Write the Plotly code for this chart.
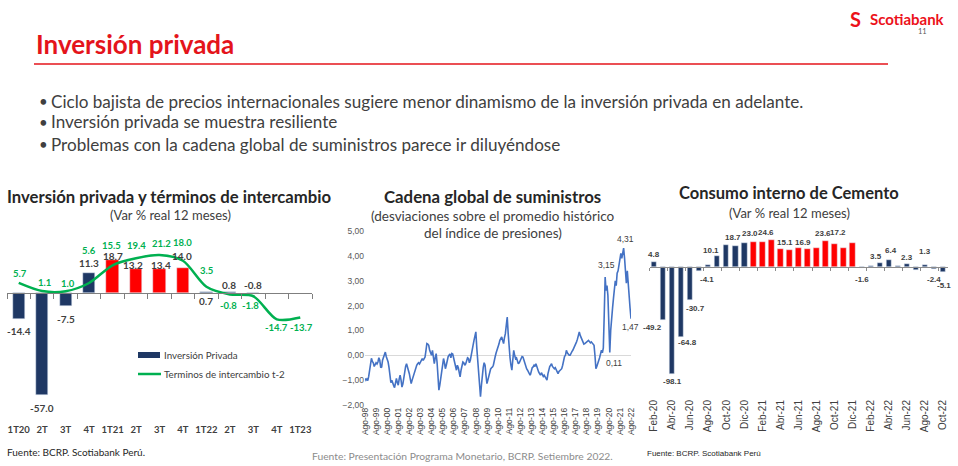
import plotly.graph_objects as go
import pandas as pd

W, H = 958, 466
def X(px): return px / W
def Y(py): return 1 - py / H

# ---------------- DATA ----------------
# Left: Inversión privada y términos de intercambio
inv_quarters = ["1T20", "2T", "3T", "4T", "1T21", "2T", "3T", "4T", "1T22", "2T", "3T", "4T", "1T23"]
inv_privada = [-14.4, -57.0, -7.5, 11.3, 18.7, 13.2, 13.4, 14.0, 0.7, 0.8, -0.8, None, None]
terminos_t2 = [5.7, 1.1, 1.0, 5.6, 15.5, 19.4, 21.2, 18.0, 3.5, -0.8, -1.8, -14.7, -13.7]

# Middle: Global supply chain pressure index (monthly, Ago-98 .. Ago-22)
gscpi = [
    -0.93, -1.00, -0.95, -1.02, -0.85,                                          # 1998 (Aug-Dec)
    -0.60, -0.35, -0.12, -0.25, -0.30, -0.45, -0.40, -0.30, -0.35, -0.27, -0.10, -0.20,  # 1999
    -0.50, -0.47, -0.20, -0.05, 0.05, 0.13, -0.05, -0.15, -0.27, -0.50, -0.85, -1.10,    # 2000
    -1.00, -1.15, -1.21, -1.30, -1.05, -0.93, -1.10, -1.20, -0.95, -0.80, -1.00, -1.28,  # 2001
    -1.15, -0.90, -0.60, -0.45, -0.34, -0.45, -0.60, -0.74, -0.95, -1.14, -1.00, -0.87,  # 2002
    -0.70, -0.55, -0.47, -0.40, -0.34, -0.30, -0.35, -0.27, -0.20, -0.13, -0.20, -0.10,  # 2003
    -0.07, 0.20, 0.47, 0.45, 0.40, 0.20, 0.05, 0.00, 0.20, -0.10, -0.34, -0.10,          # 2004
    0.07, -0.30, -0.74, -1.40, -1.20, -0.90, -0.74, -0.40, -0.13, -0.30, -0.54, -0.40,   # 2005
    -0.15, -0.05, 0.00, 0.05, -0.10, 0.07, 0.05, -0.10, -0.27, -0.45, -0.60, -0.40,      # 2006
    -0.50, -0.70, -0.87, -0.60, -0.45, -0.27, -0.30, -0.40, -0.35, -0.25, -0.10, -0.13,  # 2007
    -0.30, -0.20, 0.05, 0.20, 0.40, 0.60, 0.80, 0.94, 0.30, -0.20, -1.00, -1.40,         # 2008
    -1.67, -1.20, -0.74, -0.50, -0.30, -0.40, -0.80, -1.14, -1.00, -0.80, -0.70, -0.55,  # 2009
    -0.50, -0.47, -0.40, -0.13, -0.05, 0.10, 0.20, 0.27, 0.45, 0.60, 0.70, 0.74,         # 2010
    0.60, 0.47, 0.70, 0.87, 1.20, 1.54, 0.90, 0.20, -0.10, -0.40, -0.60, -0.20,          # 2011
    0.20, 0.00, -0.13, -0.10, -0.25, -0.34, -0.30, -0.20, -0.10, -0.05, -0.07, -0.20,    # 2012
    -0.35, -0.45, -0.54, -0.60, -0.70, -0.75, -0.80, -0.60, -0.50, -0.47, -0.40, -0.45,  # 2013
    -0.34, -0.45, -0.60, -0.67, -0.74, -0.80, -0.70, -0.75, -0.85, -0.80, -0.87, -0.90,  # 2014
    -1.00, -0.75, -0.54, -0.45, -0.40, -0.34, -0.45, -0.50, -0.54, -0.50, -0.60, -0.70,  # 2015
    -0.74, -0.65, -0.60, -0.55, -0.54, -0.40, -0.20, -0.05, 0.00, 0.20, 0.10, 0.05,      # 2016
    0.00, 0.00, 0.10, 0.15, 0.20, 0.27, 0.35, 0.45, 0.54, 0.65, 0.80, 0.94,              # 2017
    0.80, 0.70, 0.60, 0.50, 0.45, 0.47, 0.50, 0.55, 0.60, 0.60, 0.55, 0.50,              # 2018
    0.54, 0.50, 0.45, 0.40, 0.00, -0.54, -0.45, -0.35, -0.27, -0.10, 0.05, 0.20,         # 2019
    0.10, 0.30, 1.60, 3.15, 2.60, 2.80, 2.40, 1.20, 0.11, 1.00, 1.60, 1.90,              # 2020
    2.30, 2.90, 3.00, 2.80, 3.30, 3.40, 3.60, 3.90, 4.10, 3.90, 4.20, 4.31,              # 2021
    3.90, 3.30, 2.90, 3.40, 2.80, 2.20, 1.90, 1.47,                                      # 2022 (Jan-Aug)
]
gscpi_start = "1998-08-01"
gscpi_tick_labels = ["Ago-98", "Ago-99", "Ago-00", "Ago-01", "Ago-02", "Ago-03", "Ago-04",
                     "Ago-05", "Ago-06", "Ago-07", "Ago-08", "Ago-09", "Ago-10", "Ago-11",
                     "Ago-12", "Ago-13", "Ago-14", "Ago-15", "Ago-16", "Ago-17", "Ago-18",
                     "Ago-19", "Ago-20", "Ago-21", "Ago-22"]
gscpi_tick_years = list(range(1998, 2023))
gscpi_marked = {"2020-04-01": "3,15", "2021-12-01": "4,31", "2020-09-01": "0,11", "2022-08-01": "1,47"}

# Right: Consumo interno de cemento
cem_months = ["Feb-20", "Mar-20", "Abr-20", "May-20", "Jun-20", "Jul-20", "Ago-20", "Sep-20",
              "Oct-20", "Nov-20", "Dic-20", "Ene-21", "Feb-21", "Mar-21", "Abr-21", "May-21",
              "Jun-21", "Jul-21", "Ago-21", "Sep-21", "Oct-21", "Nov-21", "Dic-21", "Ene-22",
              "Feb-22", "Mar-22", "Abr-22", "May-22", "Jun-22", "Jul-22", "Ago-22", "Sep-22",
              "Oct-22"]
cem_values = [4.8, -49.2, -98.1, -64.8, -30.7, -4.1, 1.5, 10.1, 19.5, 18.7, 21.5, 23.0,
              22.5, 24.6, 16.5, 15.1, 16.9, 16.0, 17.5, 23.6, 20.5, 17.2, 22.0, -1.6,
              0.8, 3.5, 6.4, 0.6, 2.3, -3.2, 1.3, -2.4, -5.1]
cem_labelled = [0, 1, 2, 3, 4, 5, 7, 9, 11, 13, 15, 16, 19, 21, 23, 25, 26, 28, 30, 31, 32]

# ---------------- STYLE ----------------
NAVY = "#1F3864"
RED = "#FF0000"
GREEN = "#00B050"
BLUE = "#4472C4"
DARK = "#404040"
FONT = "Lato"
NARROW = "Liberation Sans Narrow, Liberation Sans, Arial"

inv_colors = [NAVY] * 4 + [RED] * 4 + [NAVY] * 5
cem_colors = [NAVY] * 11 + [RED] * 12 + [NAVY] * 10

# label pixel offsets (xshift, yshift)
inv_lbl_off = [(0, -12), (0, -13), (0, -13), (0, 10), (0, 4), (-3, 4), (1, 4), (-1, 12),
               (0, -9), (-1, 7), (0, 9.5)]
tdi_lbl_off = [(1, 9), (2, 9), (2, 8), (0, 32), (-1, 20), (0, 13), (2, 12), (0, 18),
               (0, 16), (-1, -11), (-3, -9), (0, -8), (1, -10)]
cem_lbl_off = {0: (0, 7), 1: (-11, -7), 2: (0, -8), 3: (6, -5), 4: (5, -8), 5: (8, -8),
               7: (-6, 5), 9: (-2, 9), 11: (-3, 8), 13: (-5, 7), 15: (-4, 8), 16: (4, 6),
               19: (-3, 8), 21: (-6, 15), 23: (0, -11), 25: (-4, 6), 26: (2, 9), 28: (0, 7),
               30: (0, 14), 31: (0, -10), 32: (1, -13)}
gscpi_lbl_off = {"2020-04-01": (1, 12), "2021-12-01": (2, 9), "2020-09-01": (4, -10),
                 "2022-08-01": (-1, -8)}

fig = go.Figure()

# ---------------- LEFT CHART ----------------
L_x0, L_x1, L_top, L_bot = 7, 312, 228, 422
L_ymin, L_ymax = -72.0, 36.3
xi = list(range(len(inv_quarters)))
fig.add_trace(go.Bar(x=xi, y=inv_privada, marker_color=inv_colors, width=0.52,
                     xaxis="x", yaxis="y", showlegend=False, hoverinfo="skip"))
fig.add_trace(go.Scatter(x=xi, y=terminos_t2, mode="lines",
                         line=dict(color=GREEN, width=2.5, shape="spline", smoothing=0.8),
                         xaxis="x", yaxis="y", showlegend=False, hoverinfo="skip"))
fig.add_trace(go.Scatter(x=[], y=[], xaxis="x2", yaxis="y", showlegend=False, hoverinfo="skip"))

ann = []
for i, v in enumerate(inv_privada):
    if v is None:
        continue
    dx, dy = inv_lbl_off[i]
    ann.append(dict(x=i, y=v, xref="x", yref="y", text=f"<b>{v:.1f}</b>", showarrow=False,
                    xshift=dx, yshift=dy, font=dict(family=FONT, size=10, color=DARK)))
for i, v in enumerate(terminos_t2):
    dx, dy = tdi_lbl_off[i]
    ann.append(dict(x=i, y=v, xref="x", yref="y", text=f"<b>{v:.1f}</b>", showarrow=False,
                    xshift=dx, yshift=dy, font=dict(family=FONT, size=9.5, color=GREEN)))

L_dom = [Y(L_bot), Y(L_top)]
L_zero = L_dom[0] + (0 - L_ymin) / (L_ymax - L_ymin) * (L_dom[1] - L_dom[0])

# ---------------- MIDDLE CHART ----------------
M_x0, M_x1, M_top, M_bot = 365, 631, 231, 405
g_dates = pd.date_range(gscpi_start, periods=len(gscpi), freq="MS")
fig.add_trace(go.Scatter(x=g_dates, y=gscpi, mode="lines", line=dict(color=BLUE, width=1.6),
                         xaxis="x3", yaxis="y3", showlegend=False, hoverinfo="skip"))
g_series = pd.Series(gscpi, index=g_dates)
for d, t in gscpi_marked.items():
    dx, dy = gscpi_lbl_off[d]
    ann.append(dict(x=d, y=float(g_series[pd.Timestamp(d)]), xref="x3", yref="y3", text=t,
                    showarrow=False, xshift=dx, yshift=dy,
                    font=dict(family=NARROW, size=8.5, color=DARK)))

# ---------------- RIGHT CHART ----------------
R_x0, R_x1, R_top, R_bot = 649.5, 947.5, 230, 397
R_ymin, R_ymax = -119.5, 33.7
ci = list(range(len(cem_months)))
fig.add_trace(go.Bar(x=ci, y=cem_values, marker_color=cem_colors, width=0.6,
                     xaxis="x4", yaxis="y4", showlegend=False, hoverinfo="skip"))
fig.add_trace(go.Scatter(x=[], y=[], xaxis="x5", yaxis="y4", showlegend=False, hoverinfo="skip"))
for k in cem_labelled:
    dx, dy = cem_lbl_off[k]
    ann.append(dict(x=k, y=cem_values[k], xref="x4", yref="y4", text=f"<b>{cem_values[k]:.1f}</b>",
                    showarrow=False, xshift=dx, yshift=dy,
                    font=dict(family=NARROW, size=8, color=DARK)))
R_dom = [Y(R_bot), Y(R_top)]
R_zero = R_dom[0] + (0 - R_ymin) / (R_ymax - R_ymin) * (R_dom[1] - R_dom[0])

# ---------------- TEXTS ----------------
def txt(px, py, s, size, color="#262626", family=FONT, xanchor="center", bold=False):
    ann.append(dict(x=X(px), y=Y(py), xref="paper", yref="paper", text=(f"<b>{s}</b>" if bold else s),
                    showarrow=False, xanchor=xanchor, yanchor="middle",
                    font=dict(family=family, size=size, color=color)))

txt(34, 44, "Inversión privada", 26, "#E4141B", xanchor="left", bold=True)
for yb in (101, 122, 144):
    txt(37, yb, "•", 15, "#404040", xanchor="left")
txt(49, 101, "Ciclo bajista de precios internacionales sugiere menor dinamismo de la inversión privada en adelante.", 17.1, "#404040", xanchor="left")
txt(49, 122, "Inversión privada se muestra resiliente", 17.1, "#404040", xanchor="left")
txt(49, 144, "Problemas con la cadena global de suministros parece ir diluyéndose", 17.1, "#404040", xanchor="left")

txt(169, 197, "Inversión privada y términos de intercambio", 16.7, "#262626", bold=True)
txt(170, 215, "(Var % real 12 meses)", 13, "#404040")
txt(492, 196, "Cadena global de suministros", 16.8, "#262626", bold=True)
txt(492, 216, "(desviaciones sobre el promedio histórico", 13.5, "#404040")
txt(493, 233, "del índice de presiones)", 13.5, "#404040")
txt(789, 193, "Consumo interno de Cemento", 16.5, "#262626", bold=True)
txt(789, 213, "(Var % real 12 meses)", 13, "#404040")

txt(5, 452, "Fuente: BCRP. Scotiabank Perú.", 10, "#262626", xanchor="left")
txt(462, 456, "Fuente: Presentación Programa Monetario, BCRP. Setiembre 2022.", 10.3, "#8C8C8C")
txt(645, 453, "Fuente: BCRP. Scotiabank Perú", 8, "#262626", family=NARROW, xanchor="left")

# legend (left chart)
txt(162, 355, "Inversión Privada", 9.8, DARK, xanchor="left")
txt(162, 374, "Terminos de intercambio t-2", 9.8, DARK, xanchor="left")

# header logo
txt(907, 19, "Scotiabank", 15, "#EC111A", bold=True)
txt(855, 19, "S", 20, "#EC111A", bold=True)
txt(922, 31, "11", 7.5, "#595959")

shapes = [
    dict(type="line", xref="paper", yref="paper", x0=X(34), x1=X(888), y0=Y(64), y1=Y(64),
         line=dict(color="#E4141B", width=1.5)),
    dict(type="rect", xref="paper", yref="paper", x0=X(138), x1=X(160), y0=Y(358), y1=Y(352),
         line=dict(width=0), fillcolor=NAVY),
    dict(type="line", xref="paper", yref="paper", x0=X(138), x1=X(161), y0=Y(374), y1=Y(374),
         line=dict(color=GREEN, width=2.5)),
]

axis_off = dict(showgrid=False, zeroline=False, showticklabels=False, showline=False, ticks="",
                automargin=False)

fig.update_layout(
    width=W, height=H, margin=dict(l=0, r=0, t=0, b=0, pad=0, autoexpand=False),
    paper_bgcolor="white", plot_bgcolor="rgba(0,0,0,0)",
    separators=",.", bargap=0, showlegend=False,
    annotations=ann, shapes=shapes,
    # left
    xaxis=dict(domain=[X(L_x0), X(L_x1)], range=[-0.5, 12.5], anchor="y", automargin=False,
               tickmode="array", tickvals=xi, ticktext=inv_quarters,
               tickfont=dict(family=FONT, size=9.5, color=DARK, weight="bold"),
               showgrid=False, zeroline=False, showline=False, ticks=""),
    xaxis2=dict(domain=[X(L_x0), X(L_x1)], range=[-0.5, 12.5], overlaying="x", anchor="free",
                position=L_zero, tickmode="array", tickvals=[i - 0.5 for i in range(14)],
                automargin=False, showticklabels=False, showgrid=False, zeroline=False, showline=True,
                linecolor="#7F7F7F", linewidth=1, ticks="outside", ticklen=5, tickcolor="#7F7F7F"),
    yaxis=dict(domain=L_dom, range=[L_ymin, L_ymax], anchor="x", **axis_off),
    # middle
    xaxis3=dict(domain=[X(M_x0), X(M_x1)], type="date", range=["1998-08-01", "2022-08-01"],
                anchor="y3", tickmode="array", automargin=False,
                tickvals=[f"{y}-08-01" for y in gscpi_tick_years], ticktext=gscpi_tick_labels,
                tickangle=-90, tickfont=dict(family=NARROW, size=8.5, color=DARK),
                showgrid=False, zeroline=False, showline=False, ticks=""),
    yaxis3=dict(domain=[Y(M_bot), Y(M_top)], range=[-2, 5], anchor="x3", dtick=1, automargin=False,
                tickformat=".2f", tickfont=dict(family=NARROW, size=8.5, color="#595959"),
                showgrid=False, zeroline=True, zerolinecolor="#D9D9D9", zerolinewidth=1,
                showline=False, ticks=""),
    # right
    xaxis4=dict(domain=[X(R_x0), X(R_x1)], range=[-0.5, 32.5], anchor="y4", automargin=False,
                tickmode="array", tickvals=ci[::2], ticktext=cem_months[::2], tickangle=-90,
                tickfont=dict(family="Liberation Sans, Arial", size=10, color=DARK),
                showgrid=False, zeroline=False, showline=False, ticks=""),
    xaxis5=dict(domain=[X(R_x0), X(R_x1)], range=[-0.5, 32.5], overlaying="x4", anchor="free",
                position=R_zero, tickmode="array", tickvals=[k - 0.5 for k in range(0, 34, 2)],
                automargin=False, showticklabels=False, showgrid=False, zeroline=False, showline=True,
                linecolor="#8C8C8C", linewidth=1, ticks="outside", ticklen=3, tickcolor="#8C8C8C"),
    yaxis4=dict(domain=R_dom, range=[R_ymin, R_ymax], anchor="x4", **axis_off),
)

fig.write_html("out.html", config={"displayModeBar": False},
               post_script="document.body.style.margin='0px';document.body.style.overflow='hidden';")
